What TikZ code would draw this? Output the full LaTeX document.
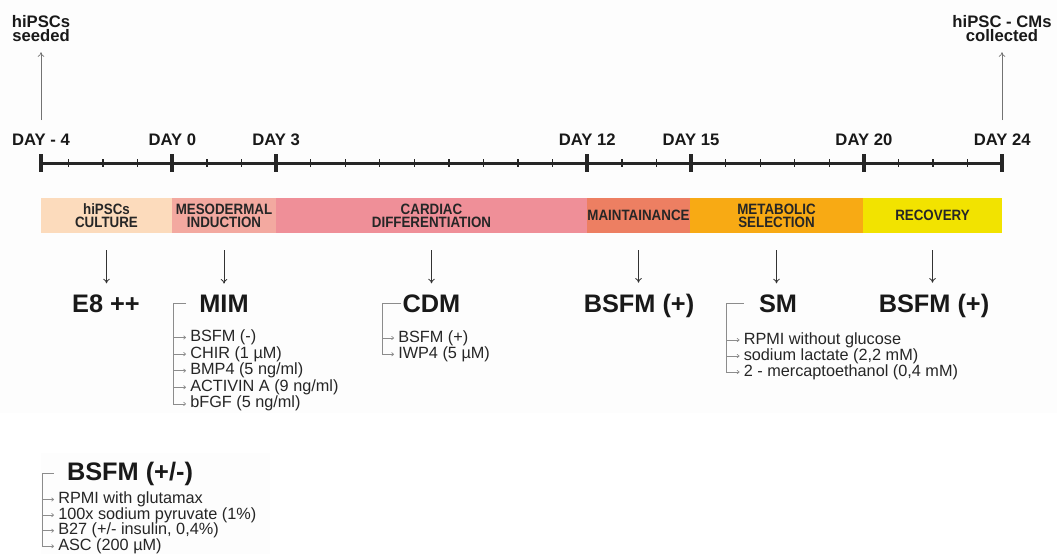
\documentclass[tikz,border=0pt]{standalone}
\usepackage{fontspec}
\setmainfont{Liberation Sans}
\newfontfamily\barfont{Liberation Sans}[FakeStretch=0.89]
\usetikzlibrary{positioning, arrows.meta}

\definecolor{cultureclr}{HTML}{FCDBBC}
\definecolor{mesoclr}{HTML}{F3A9A0}
\definecolor{cardioclr}{HTML}{EF8F98}
\definecolor{maintclr}{HTML}{ED7F62}
\definecolor{metaclr}{HTML}{F8AA14}
\definecolor{recovclr}{HTML}{F2E300}
\definecolor{panelclr}{HTML}{FDFDFD}

\tikzset{
  daylabel/.style={font=\fontsize{12.5}{12.5}\selectfont\bfseries, anchor=base, inner sep=0pt, text=black!90},
  event/.style={font=\fontsize{12.5}{10.5}\selectfont\bfseries, align=center, inner sep=0pt, anchor=south, text=black!90},
  phase/.style={font=\barfont\fontsize{11.25}{9.75}\selectfont\bfseries, align=center, inner sep=0pt, minimum height=26.25pt, text=black!85},
  medium/.style={font=\fontsize{19}{19}\selectfont\bfseries, anchor=base, inner sep=0pt, text=black!90},
  item/.style={font=\fontsize{12.2}{12.2}\selectfont, anchor=base west, inner xsep=0pt, inner ysep=1pt, text height=8.5pt, text depth=2.5pt, text=black!85},
  rise/.style={-{To[length=3.5pt,width=5pt]}, black!55, line width=0.5pt, shorten >=8pt},
  feed/.style={-{To[length=3.5pt,width=5pt]}, black!80, line width=0.6pt, shorten <=12.75pt, shorten >=8pt},
  bracket/.style={black!45, line width=0.5pt},
  stub/.style={black!45, line width=0.5pt, -{To[length=2pt,width=3pt]}, shorten >=3pt},
}

\begin{document}
\begin{tikzpicture}[x=0.75pt, y=-0.75pt]
\useasboundingbox (0,0) rectangle (1057,554);
\fill[panelclr] (0,0) rectangle (1057,413);
\fill[panelclr] (41,453) rectangle (270,554);

% timeline
\coordinate (t-4) at (41,163);
\foreach \d in {0,3,12,15,20,24}
  \coordinate (t\d) at ({172.3+34.58*\d},163);
\draw[line width=2.25pt, black!85] (t-4) -- (t24);
\foreach \d in {-3,...,23}
  \draw[line width=1pt, black!85] ({172.3+34.58*\d},159) -- ++(0,8);
\foreach \d in {-4,0,3,12,15,20,24}
  \draw[line width=3pt, black!85] (t\d) ++(0,-9) -- ++(0,18);
\foreach \d/\txt in {-4/DAY - 4, 0/DAY 0, 3/DAY 3, 12/DAY 12, 15/DAY 15, 20/DAY 20, 24/DAY 24}
  \node[daylabel] (day\d) at (t\d |- 0,145) {\txt};

% start and end
\node[event] (seeded) at (41,41.5) {hiPSCs\\seeded};
\node[event] (collected) at (1002,41.5) {hiPSC - CMs\\collected};
\coordinate (seedfoot) at (41,120);
\coordinate (collectfoot) at (1002,120);
\draw[rise] (seedfoot) -- (seeded.south);
\draw[rise] (collectfoot) -- (collected.south);

% phases
\node[phase, fill=cultureclr, minimum width=98.25pt] (culture) at (106.5,215.5) {hiPSCs\\CULTURE};
\node[phase, fill=mesoclr, minimum width=78pt] (meso) at (224,215.5) {MESODERMAL\\INDUCTION};
\node[phase, fill=cardioclr, minimum width=233.25pt] (cardio) at (431.5,215.5) {CARDIAC\\DIFFERENTIATION};
\node[phase, fill=maintclr, minimum width=77.25pt] (maint) at (638.5,215.5) {MAINTAINANCE};
\node[phase, fill=metaclr, minimum width=129.75pt] (meta) at (776.5,215.5) {METABOLIC\\SELECTION};
\node[phase, fill=recovclr, minimum width=104.25pt] (recov) at (932.5,215.5) {RECOVERY};

% media
\node[medium] (e8) at (106,312) {E8 ++};
\node[medium] (mim) at (224,312) {MIM};
\node[medium] (cdm) at (431.5,312) {CDM};
\node[medium] (bsfmmaint) at (639,312) {BSFM (+)};
\node[medium] (sm) at (778,312) {SM};
\node[medium] (bsfmrecov) at (934,312) {BSFM (+)};
\node[medium] (bsfmpm) at (130,480) {BSFM (+/-)};

\draw[feed] (culture.south) -- (culture.south |- e8.north);
\draw[feed] (meso.south) -- (meso.south |- mim.north);
\draw[feed] (cardio.south) -- (cardio.south |- cdm.north);
\draw[feed] (maint.south) -- (maint.south |- bsfmmaint.north);
\draw[feed] (meta.south) -- (meta.south |- sm.north);
\draw[feed] (recov.south) -- (recov.south |- bsfmrecov.north);

% MIM
\foreach \txt [count=\i] in {{BSFM (-)}, {CHIR (1 µM)}, {BMP4 (5 ng/ml)}, {ACTIVIN A (9 ng/ml)}, {bFGF (5 ng/ml)}}
  \node[item] (mim\i) at (190,{341.5+16.6*(\i-1)}) {\txt};
\coordinate (mimx) at (173,0);
\draw[bracket, shorten <=9.75pt] (mim.west) -| (mimx |- mim5.west);
\foreach \i in {1,...,5}
  \draw[stub] (mimx |- mim\i.west) -- (mim\i.west);

% CDM
\foreach \txt [count=\i] in {{BSFM (+)}, {IWP4 (5 µM)}}
  \node[item] (cdm\i) at (398,{342+16.3*(\i-1)}) {\txt};
\coordinate (cdmx) at (382,0);
\draw[bracket, shorten <=0.75pt] (cdm.west) -| (cdmx |- cdm2.west);
\foreach \i in {1,2}
  \draw[stub] (cdmx |- cdm\i.west) -- (cdm\i.west);

% SM
\foreach \txt [count=\i] in {{RPMI without glucose}, {sodium lactate (2,2 mM)}, {2 - mercaptoethanol (0,4 mM)}}
  \node[item] (sm\i) at (743.5,{344+16*(\i-1)}) {\txt};
\coordinate (smx) at (726,0);
\draw[bracket, shorten <=11.25pt] (sm.west) -| (smx |- sm3.west);
\foreach \i in {1,2,3}
  \draw[stub] (smx |- sm\i.west) -- (sm\i.west);

% BSFM (+/-)
\foreach \txt [count=\i] in {{RPMI with glutamax}, {100x sodium pyruvate (1\%)}, {B27 (+/- insulin, 0,4\%)}, {ASC (200 µM)}}
  \node[item] (pm\i) at (58,{503.5+15.6*(\i-1)}) {\txt};
\coordinate (pmx) at (42,0);
\draw[bracket, shorten <=9.75pt] (bsfmpm.west) -| (pmx |- pm4.west);
\foreach \i in {1,...,4}
  \draw[stub] (pmx |- pm\i.west) -- (pm\i.west);
\end{tikzpicture}
\end{document}
